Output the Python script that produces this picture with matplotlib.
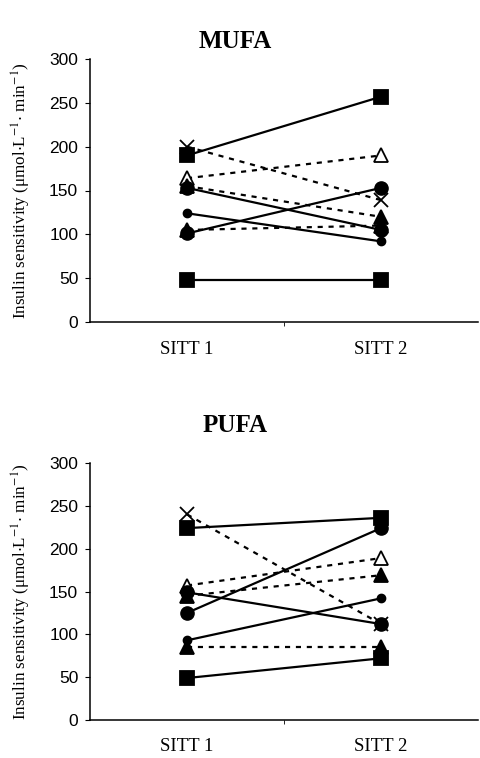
import matplotlib
matplotlib.use('Agg')
import matplotlib.pyplot as plt

plt.rcParams['font.family'] = ['Liberation Sans', 'DejaVu Sans']
plt.rcParams['mathtext.fontset'] = 'stix'

# data
sessions = ['SITT 1', 'SITT 2']
y_ticks = [0, 50, 100, 150, 200, 250, 300]

# MUFA, one pair of values per subject
mufa_square_a = [190, 257]
mufa_square_b = [48, 48]
mufa_cross = [200, 139]
mufa_open_tri = [164, 190]
mufa_tri_a = [155, 120]
mufa_tri_b = [105, 110]
mufa_circle_a = [153, 105]
mufa_circle_b = [101, 153]
mufa_dot = [124, 92]

# PUFA
pufa_square_a = [224, 236]
pufa_square_b = [49, 72]
pufa_cross = [240, 112]
pufa_open_tri = [157, 189]
pufa_tri_a = [145, 169]
pufa_tri_b = [85, 85]
pufa_circle_a = [149, 112]
pufa_circle_b = [125, 224]
pufa_dot = [93, 142]

# marker, face colour, size, dashed?
styles = {
    'square_a': ('s', 'black', 10, False),
    'square_b': ('s', 'black', 10, False),
    'cross': ('x', 'black', 10, True),
    'open_tri': ('^', 'white', 9.5, True),
    'tri_a': ('^', 'black', 10, True),
    'tri_b': ('^', 'black', 10, True),
    'circle_a': ('o', 'black', 9.5, False),
    'circle_b': ('o', 'black', 9.5, False),
    'dot': ('o', 'black', 6, False),
}

mufa = {'cross': mufa_cross, 'open_tri': mufa_open_tri, 'tri_a': mufa_tri_a,
        'tri_b': mufa_tri_b, 'circle_a': mufa_circle_a, 'circle_b': mufa_circle_b,
        'dot': mufa_dot, 'square_a': mufa_square_a, 'square_b': mufa_square_b}
pufa = {'cross': pufa_cross, 'open_tri': pufa_open_tri, 'tri_a': pufa_tri_a,
        'tri_b': pufa_tri_b, 'circle_a': pufa_circle_a, 'circle_b': pufa_circle_b,
        'dot': pufa_dot, 'square_a': pufa_square_a, 'square_b': pufa_square_b}

W, H = 481, 758
fig = plt.figure(figsize=(W / 100, H / 100), dpi=100)


def draw_panel(rect, data, title, title_y, xpad):
    ax = fig.add_axes(rect)
    x = list(range(len(sessions)))
    for key, vals in data.items():
        mk, fc, ms, dashed = styles[key]
        ax.plot(x, vals, color='black', lw=1.6,
                linestyle=(0, (2.3, 2.6)) if dashed else '-',
                marker=mk, markersize=ms, markerfacecolor=fc,
                markeredgecolor='black', markeredgewidth=1.3 if mk != 'o' else 1,
                zorder=3)
    ax.set_xlim(-0.5, 1.5)
    ax.set_ylim(0, 300)
    ax.set_yticks(y_ticks)
    ax.set_xticks(x)
    ax.set_xticklabels(sessions, family='Liberation Serif', fontsize=13.5)
    ax.tick_params(axis='x', length=0, pad=xpad)
    ax.set_xticks([0.5], minor=True)
    ax.tick_params(axis='x', which='minor', length=3, direction='out')
    ax.tick_params(axis='y', length=3.5, direction='out', width=0.8,
                   labelsize=12.5, pad=5)
    for s in ['top', 'right']:
        ax.spines[s].set_visible(False)
    for s in ['left', 'bottom']:
        ax.spines[s].set_linewidth(1.1)
    ax.set_ylabel(r'Insulin sensitivity ($\mathregular{\mu}$mol$\cdot$L$^{-1}$$\cdot$ min$^{-1}$)',
                  family='Liberation Serif', fontsize=12.3)
    ax.yaxis.set_label_coords(-0.148, 0.5)
    fig.text(235 / W, 1 - title_y / H, title, ha='center', va='center',
             family='Liberation Serif', fontweight='bold', fontsize=18)
    return ax


draw_panel([90 / W, 1 - 322 / H, 388 / W, 263 / H], mufa, 'MUFA', 42, 14)
draw_panel([90 / W, 1 - 720 / H, 388 / W, 257 / H], pufa, 'PUFA', 425, 13)

fig.savefig('out.png', dpi=100)
